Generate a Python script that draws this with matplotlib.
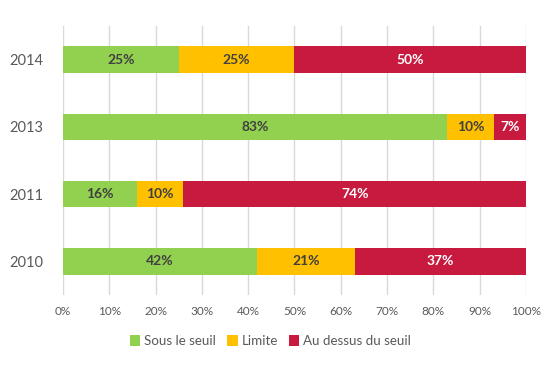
import numpy as np
import matplotlib.pyplot as plt
from matplotlib.ticker import MultipleLocator, FuncFormatter

years = ["2010", "2011", "2013", "2014"]
sous = [42, 16, 83, 25]
limite = [21, 10, 10, 25]
dessus = [37, 74, 7, 50]

series = [
    ("Sous le seuil", sous, "#92D050", "#404040"),
    ("Limite", limite, "#FFC000", "#404040"),
    ("Au dessus du seuil", dessus, "#C8193F", "white"),
]

plt.rcParams["font.family"] = ["Lato", "DejaVu Sans"]

fig = plt.figure(figsize=(5.52, 3.66), dpi=100)
ax = fig.add_axes([0.114, 0.195, 0.839, 0.733])

y = np.arange(len(years))
left = np.zeros(len(years))
for name, vals, color, tcolor in series:
    vals = np.array(vals, dtype=float)
    ax.barh(y, vals, left=left, height=0.4, color=color, label=name, zorder=3)
    for yi, l, v in zip(y, left, vals):
        ax.text(l + v / 2, yi, f"{int(v)}%", ha="center", va="center",
                fontsize=10, fontweight="bold", color=tcolor, zorder=4)
    left += vals

ax.set_xlim(0, 100)
ax.set_ylim(-0.5, len(years) - 0.5)
ax.set_yticks(y)
ax.set_yticklabels(years, fontsize=10.5, color="#595959")
ax.xaxis.set_major_locator(MultipleLocator(10))
ax.xaxis.set_major_formatter(FuncFormatter(lambda v, p: f"{int(v)}%"))
ax.tick_params(axis="x", labelsize=8.5, colors="#595959", length=0, pad=8)
ax.tick_params(axis="y", length=0, pad=14)
ax.grid(axis="x", color="#D9D9D9", linewidth=1, zorder=0)
for s in ax.spines.values():
    s.set_visible(False)

handles, labels = ax.get_legend_handles_labels()
fig.legend(handles, labels, loc="center", bbox_to_anchor=(0.49, 0.068), ncol=3,
           frameon=False, fontsize=9.6, handlelength=0.8, handleheight=0.8,
           handletextpad=0.3, columnspacing=0.8, labelcolor="#595959")

fig.savefig("out.png", dpi=100)
